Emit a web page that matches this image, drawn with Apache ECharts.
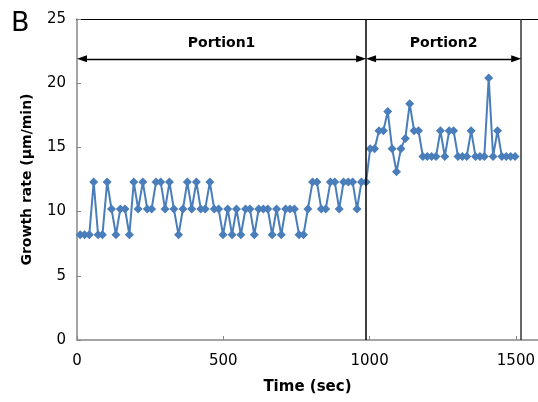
<!DOCTYPE html>
<html><head><meta charset="utf-8">
<script src="https://cdn.jsdelivr.net/npm/echarts@6/dist/echarts.min.js"></script>
<style>html,body{margin:0;padding:0;background:#fff}#c{width:538px;height:402px}</style>
</head><body><div id="c"></div>
<script>
// Portion 1 sample times (sec) and growth rates (µm/min)
const timesP1 = [11,26,42,57,72,87,103,118,133,148,164,179,194,209,225,240,255,270,286,301,
  316,331,347,362,377,392,408,423,438,454,469,484,499,515,530,545,560,576,591,606,
  621,637,652,667,682,698,713,728,743,759,774,789,805,820,835,850,866,881,896,911,
  927,942,957,972,988];
const valuesP1 = [8.2,8.2,8.2,12.3,8.2,8.2,12.3,10.2,8.2,10.2,10.2,8.2,12.3,10.2,12.3,10.2,10.2,12.3,12.3,10.2,
  12.3,10.2,8.2,10.2,12.3,10.2,12.3,10.2,10.2,12.3,10.2,10.2,8.2,10.2,8.2,10.2,8.2,10.2,10.2,8.2,
  10.2,10.2,10.2,8.2,10.2,8.2,10.2,10.2,10.2,8.2,8.2,10.2,12.3,12.3,10.2,10.2,12.3,12.3,10.2,12.3,
  12.3,12.3,10.2,12.3,12.3];
// Portion 2
const timesP2 = [1002,1017,1032,1047,1062,1077,1092,1107,1122,1137,1152,1167,1182,1197,1212,1227,1242,1257,1272,1287,
  1302,1317,1332,1347,1362,1377,1392,1407,1422,1437,1452,1467,1482,1497];
const valuesP2 = [14.9,14.9,16.3,16.3,17.8,14.9,13.1,14.9,15.7,18.4,16.3,16.3,14.3,14.3,14.3,14.3,16.3,14.3,16.3,16.3,
  14.3,14.3,14.3,16.3,14.3,14.3,14.3,20.4,14.3,16.3,14.3,14.3,14.3,14.3];

const xAxisRange = {min: 0, max: 1575, interval: 500};
const yAxisRange = {min: 0, max: 25, interval: 5};
const portionStart = 0;
const portionBounds = [988, 1518];
const portionNames = ['Portion1', 'Portion2'];
const arrowLevel = 21.9;
const arrowInset = 17;

const data = timesP1.map((t, i) => [t, valuesP1[i]])
  .concat(timesP2.map((t, i) => [t, valuesP2[i]]));

const AX = '#868686';
const FONT = 'DejaVu Sans';
const blue = '#4A7EBB';

const arrowItem = (a, b, name) => [
  {coord: [a + arrowInset, arrowLevel], symbol: 'triangle', symbolSize: [7, 10],
   lineStyle: {color: '#000', width: 1.3, type: 'solid'},
   label: {show: true, formatter: name, position: 'insideMiddleTop', distance: 8,
     color: '#000', fontFamily: FONT, fontWeight: 'bold', fontSize: 14}},
  {coord: [b - arrowInset, arrowLevel], symbol: 'triangle', symbolSize: [7, 10]}
];

const chart = echarts.init(document.getElementById('c'), null, {renderer: 'canvas'});
chart.setOption({
  backgroundColor: '#fff',
  animation: false,
  title: {text: 'B', left: 6, top: 5,
    textStyle: {fontFamily: FONT, fontWeight: 'normal', fontSize: 27, color: '#000'}},
  grid: {left: 77, top: 19, right: 0, bottom: 62, containLabel: false},
  xAxis: [{
    type: 'value', min: xAxisRange.min, max: xAxisRange.max, interval: xAxisRange.interval,
    name: 'Time (sec)', nameLocation: 'middle', nameGap: 40,
    nameTextStyle: {fontFamily: FONT, fontWeight: 'bold', fontSize: 15, color: '#000'},
    axisLine: {lineStyle: {color: AX, width: 1.5}},
    axisTick: {inside: true, length: 4, lineStyle: {color: AX}},
    axisLabel: {margin: 14, fontFamily: FONT, fontSize: 15, color: '#000', showMaxLabel: false,
      formatter: v => String(v)},
    splitLine: {show: false}
  }, {
    type: 'value', position: 'top', min: xAxisRange.min, max: xAxisRange.max,
    axisLine: {show: true, lineStyle: {color: '#000', width: 1}},
    axisTick: {show: false}, axisLabel: {show: false}, splitLine: {show: false}
  }],
  yAxis: {
    type: 'value', min: yAxisRange.min, max: yAxisRange.max, interval: yAxisRange.interval,
    name: 'Growth rate (µm/min)', nameLocation: 'middle', nameGap: 43, nameRotate: 90,
    nameTextStyle: {fontFamily: FONT, fontWeight: 'bold', fontSize: 14, color: '#000'},
    axisLine: {show: true, lineStyle: {color: AX, width: 1.5}},
    axisTick: {show: true, inside: true, length: 4, lineStyle: {color: AX}},
    axisLabel: {margin: 11, fontFamily: FONT, fontSize: 15, color: '#000'},
    splitLine: {show: false}
  },
  series: [{
    type: 'line', xAxisIndex: 0, data: data,
    symbol: 'diamond', symbolSize: 9, showAllSymbol: true,
    itemStyle: {color: blue}, lineStyle: {color: blue, width: 2},
    markLine: {
      silent: true, animation: false, symbol: 'none',
      data: [
        {xAxis: portionBounds[0], lineStyle: {color: '#000', width: 1.5, type: 'solid'}, label: {show: false}},
        {xAxis: portionBounds[1], lineStyle: {color: '#333', width: 1.5, type: 'solid'}, label: {show: false}},
        arrowItem(portionStart, portionBounds[0], portionNames[0]),
        arrowItem(portionBounds[0], portionBounds[1], portionNames[1])
      ]
    }
  }]
});
</script></body></html>
